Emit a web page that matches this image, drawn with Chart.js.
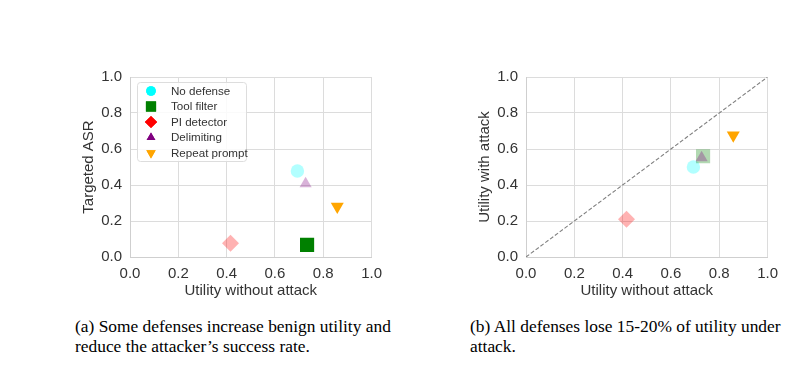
<!DOCTYPE html>
<html>
<head>
<meta charset="utf-8">
<script src="https://cdn.jsdelivr.net/npm/chart.js@4.4.0/dist/chart.umd.min.js"></script>
<style>
  html, body { margin: 0; padding: 0; background: #fff; }
  body { width: 796px; height: 372px; position: relative; overflow: hidden; }
  .box { position: absolute; top: 60px; width: 330px; height: 250px; }
  .cap { position: absolute; top: 316px; font: 17.4px "Liberation Serif", "Times New Roman", serif; line-height: 20px; color: #000; white-space: nowrap; }
</style>
</head>
<body>
<div class="box" style="left:60px"><canvas id="chartA"></canvas></div>
<div class="box" style="left:456px"><canvas id="chartB"></canvas></div>
<div class="cap" style="left:75px">(a) Some defenses increase benign utility and<br>reduce the attacker’s success rate.</div>
<div class="cap" style="left:470px">(b) All defenses lose 15-20% of utility under<br>attack.</div>
<script>
// data
const defenses = ['No defense', 'Tool filter', 'PI detector', 'Delimiting', 'Repeat prompt'];
const utilNoAttack = [0.693, 0.733, 0.416, 0.727, 0.858];
const targetedASR = [0.478, 0.067, 0.076, 0.407, 0.28];
const utilWithAttack = [0.50, 0.56, 0.21, 0.552, 0.677];
const diagonal = [0, 1];

const baseColors = ['0,255,255', '0,128,0', '255,0,0', '128,0,128', '255,165,0'];
const styles = ['circle', 'rect', 'rectRot', 'triangle', 'triangle'];
const rotations = [0, 0, 0, 0, 180];
const radii = [6.7, 10, 8.5, 7, 7.5];
const alphaA = [0.3, 1, 0.3, 0.3, 1];
const alphaB = [0.3, 0.3, 0.3, 0.3, 1];

const txt = '#333';
const font = { family: 'Liberation Sans, Arial, sans-serif', size: 15 };

function makeSets(yVals, alphas) {
  return defenses.map((name, i) => ({
    type: 'scatter',
    label: name,
    data: [{ x: utilNoAttack[i], y: yVals[i] }],
    pointStyle: styles[i],
    rotation: rotations[i],
    pointRadius: radii[i],
    pointHoverRadius: radii[i],
    pointBorderWidth: 0,
    pointBackgroundColor: `rgba(${baseColors[i]},${alphas[i]})`,
    pointBorderColor: 'rgba(0,0,0,0)',
    order: 10 - i
  }));
}

function scaleOpts(title, isX) {
  return {
    type: 'linear', min: 0, max: 1,
    afterFit: s => { if (isX) s.height = 53; else s.width = 70; },
    ticks: { stepSize: 0.2, color: txt, font, padding: 8, callback: v => v.toFixed(1) },
    grid: { color: '#dcdcdc', lineWidth: 1, drawTicks: false },
    border: { color: '#cfcfcf' },
    title: { display: true, text: title, color: txt, font, padding: isX ? { top: 4, bottom: 10 } : { top: 20, bottom: 4 } }
  };
}

const legendPlugin = {
  id: 'boxLegend',
  afterDatasetsDraw(chart) {
    const { ctx, chartArea: a } = chart;
    const bx = a.left + 7, by = a.top + 5, bw = 109, bh = 79;
    ctx.save();
    ctx.fillStyle = 'rgba(255,255,255,0.85)';
    ctx.strokeStyle = '#dddddd';
    ctx.lineWidth = 1;
    ctx.beginPath();
    ctx.roundRect(bx + 0.5, by + 0.5, bw, bh, 3);
    ctx.fill(); ctx.stroke();
    ctx.font = '11.6px "Liberation Sans", Arial, sans-serif';
    ctx.textBaseline = 'middle';
    defenses.forEach((name, i) => {
      const y = by + 9 + i * 15.5;
      ctx.fillStyle = `rgb(${baseColors[i]})`;
      Chart.helpers.drawPoint(ctx, { pointStyle: styles[i], rotation: rotations[i], radius: radii[i] * 0.72, borderWidth: 0 }, bx + 14, y);
      ctx.fill();
      ctx.fillStyle = txt;
      ctx.fillText(name, bx + 34, y + 0.5);
    });
    ctx.restore();
  }
};

const common = {
  responsive: true, maintainAspectRatio: false, animation: false,
  layout: { padding: { top: 17, right: 8, left: 0, bottom: 0 } },
  plugins: { legend: { display: false }, tooltip: { enabled: false } }
};

new Chart(document.getElementById('chartA'), {
  type: 'scatter',
  data: { datasets: makeSets(targetedASR, alphaA) },
  options: { ...common, scales: { x: scaleOpts('Utility without attack', true), y: scaleOpts('Targeted ASR', false) } },
  plugins: [legendPlugin]
});

const setsB = makeSets(utilWithAttack, alphaB);
setsB.push({
  type: 'line',
  label: 'diag',
  data: diagonal.map(v => ({ x: v, y: v })),
  borderColor: '#808080', borderWidth: 1.1, borderDash: [4, 2],
  pointRadius: 0, fill: false, order: 20
});
new Chart(document.getElementById('chartB'), {
  type: 'scatter',
  data: { datasets: setsB },
  options: { ...common, scales: { x: scaleOpts('Utility without attack', true), y: scaleOpts('Utility with attack', false) } }
});
</script>
</body>
</html>
